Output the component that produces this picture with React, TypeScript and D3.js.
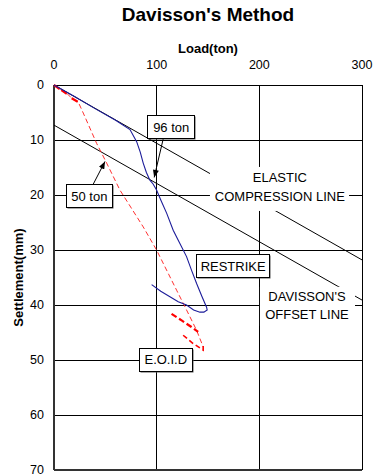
import * as d3 from 'd3';

// axis ticks
const loadTicks = [0, 100, 200, 300];
const settleTicks = [0, 10, 20, 30, 40, 50, 60, 70];

// restrike curve (blue)
const restrikeLoad = [0, 20, 40, 60, 74, 80.5, 84, 86.9, 90, 93.4, 96.5, 99.9, 104, 109.7, 116.1, 122, 129.1, 134, 138.9, 144, 148.6, 149.2, 146, 142.1, 136, 129.1, 121, 112.9, 104, 95.1];
const restrikeSettle = [0, 2.1, 4.3, 6.4, 8.1, 10.3, 12.2, 14.2, 15.9, 17.3, 18.0, 19.1, 20.9, 23.3, 26.4, 28.6, 31.2, 33.7, 36.1, 38.4, 40.4, 40.9, 41.3, 41.3, 40.9, 40.0, 39.4, 38.5, 37.5, 36.3];

// E.O.I.D curve (red dashed)
const eoidLoad = [0, 12.4, 17.2, 23.6, 28.5, 41.5, 51.3, 64.2, 86.9, 99.9, 119.4, 129.1, 138.9, 145.3];
const eoidSettle = [0, 1.5, 2.4, 3.1, 5.1, 10.6, 14.2, 19.1, 25.8, 30.0, 37.3, 40.9, 44.6, 47.6];
const eoidHeavyLoad = [0, 6, 12.4, NaN, 17.2, 23.6];
const eoidHeavySettle = [0, 0.8, 1.6, NaN, 2.4, 3.1];
const eoidReload1Load = [114.5, 124.3, 133.9, 140.4];
const eoidReload1Settle = [41.6, 42.8, 44.0, 44.9];
const eoidReload2Load = [125.8, 135.5, 145.3, 145.3];
const eoidReload2Settle = [45.5, 47.0, 48.2, 46.9];

// Davisson construction
const elasticSlope = 0.106; // mm per ton
const offsetMm = 7.3;
const lineLoad = [0, 300];

// boxed annotations (data units)
const boxLabels = ['96 ton', '50 ton', 'RESTRIKE', 'E.O.I.D'];
const boxLoad = [113.7, 33.9, 174, 108.4];
const boxSettle = [7.6, 20.1, 32.9, 49.9];
const boxWidth = [47, 46, 73, 53];

// arrows: [fromLoad, fromSettle, toLoad, toSettle]
const arrows = [
  [106.5, 9.7, 97.6, 16.8],
  [38.3, 18.0, 49.7, 13.9],
];

const W = 376;
const H = 476;
const font = '"Liberation Sans", Arial, sans-serif';

const App = () => {
  const x = d3.scaleLinear().domain([0, 300]).range([54, 362]);
  const y = d3.scaleLinear().domain([0, 70]).range([85, 470]);

  const line = d3.line<[number, number]>()
    .defined(d => !isNaN(d[0]))
    .x(d => x(d[0]))
    .y(d => y(d[1]));

  const zip = (a: number[], b: number[]) => a.map((v, i) => [v, b[i]] as [number, number]);

  const elastic = lineLoad.map(p => [p, elasticSlope * p] as [number, number]);
  const offset = lineLoad.map(p => [p, offsetMm + elasticSlope * p] as [number, number]);

  const [x0, x1] = x.range();
  const [y0, y1] = y.range();

  return (
    <svg width={W} height={H} style={{ position: 'absolute', left: 0, top: 0, background: '#fff' }} fontFamily={font}>
      <defs>
        <marker id="arrow" viewBox="0 0 10 8" refX="10" refY="4" markerWidth="8" markerHeight="6" orient="auto" markerUnits="userSpaceOnUse">
          <path d="M0,0 L10,4 L0,8 z" fill="#000" />
        </marker>
      </defs>

      <text x={(x0 + x1) / 2} y={21} textAnchor="middle" fontWeight="bold" fontSize="19">Davisson's Method</text>
      <text x={(x0 + x1) / 2} y={53} textAnchor="middle" fontWeight="bold" fontSize="13">Load(ton)</text>
      <text transform={`translate(23,${(y0 + y1) / 2}) rotate(-90)`} textAnchor="middle" fontWeight="bold" fontSize="13">Settlement(mm)</text>

      {loadTicks.map(t => (
        <text key={'xt' + t} x={x(t)} y={69} textAnchor="middle" fontSize="12.5">{t}</text>
      ))}
      {settleTicks.map(t => (
        <text key={'yt' + t} x={44} y={y(t)} textAnchor="end" dominantBaseline="central" fontSize="12.5">{t}</text>
      ))}

      <g shapeRendering="crispEdges" stroke="#000" strokeWidth={1}>
        {settleTicks.slice(1, -1).map(t => (
          <line key={'gy' + t} x1={x0} x2={x1} y1={y(t)} y2={y(t)} />
        ))}
        {loadTicks.slice(1, -1).map(t => (
          <line key={'gx' + t} x1={x(t)} x2={x(t)} y1={y0} y2={y1} />
        ))}
        <line x1={x0} x2={x1} y1={y0} y2={y0} />
        <line x1={x1} x2={x1} y1={y0} y2={y1} />
        <line x1={x0} x2={x1} y1={y1} y2={y1} stroke="#333" strokeWidth={2} />
        <line x1={x0} x2={x0} y1={y0} y2={y1} stroke="#333" strokeWidth={2} />
      </g>

      <path d={line(elastic) ?? ''} fill="none" stroke="#000" strokeWidth={1} />
      <path d={line(offset) ?? ''} fill="none" stroke="#000" strokeWidth={1} />

      <path d={line(zip(eoidLoad, eoidSettle)) ?? ''} fill="none" stroke="#ff3030" strokeWidth={1} strokeDasharray="5,3" />
      <path d={line(zip(eoidHeavyLoad, eoidHeavySettle)) ?? ''} fill="none" stroke="#ff0000" strokeWidth={2.2} strokeDasharray="7,2" />
      <path d={line(zip(eoidReload1Load, eoidReload1Settle)) ?? ''} fill="none" stroke="#ff0000" strokeWidth={2.2} strokeDasharray="6,3" />
      <path d={line(zip(eoidReload2Load, eoidReload2Settle)) ?? ''} fill="none" stroke="#ff0000" strokeWidth={1.6} strokeDasharray="5,3" />
      <path d={line(zip(restrikeLoad, restrikeSettle)) ?? ''} fill="none" stroke="#1c1c9a" strokeWidth={1.1} />

      {/* line labels on white */}
      <rect x={x(151.9)} y={y(14.9)} width={x(287.4) - x(151.9)} height={y(22.9) - y(14.9)} fill="#fff" />
      <text x={x(220)} y={y(16.9)} textAnchor="middle" dominantBaseline="central" fontSize="13">ELASTIC</text>
      <text x={x(220)} y={y(20.2)} textAnchor="middle" dominantBaseline="central" fontSize="13">COMPRESSION LINE</text>

      <rect x={x(200.6)} y={y(36.7)} width={x(293.2) - x(200.6)} height={y(43.8) - y(36.7)} fill="#fff" />
      <text x={x(246.4)} y={y(38.4)} textAnchor="middle" dominantBaseline="central" fontSize="13">DAVISSON'S</text>
      <text x={x(246.4)} y={y(41.8)} textAnchor="middle" dominantBaseline="central" fontSize="13">OFFSET LINE</text>

      {arrows.map((a, i) => (
        <line key={'ar' + i} x1={x(a[0])} y1={y(a[1])} x2={x(a[2])} y2={y(a[3])} stroke="#000" strokeWidth={1} markerEnd="url(#arrow)" />
      ))}

      {boxLabels.map((lbl, i) => {
        const cx = x(boxLoad[i]);
        const cy = y(boxSettle[i]);
        const w = boxWidth[i];
        const h = 23;
        return (
          <g key={'bx' + i}>
            <rect x={Math.round(cx - w / 2) + 1.5} y={Math.round(cy - h / 2) + 1.5} width={w} height={h} fill="#555" />
            <rect x={Math.round(cx - w / 2) + 0.5} y={Math.round(cy - h / 2) + 0.5} width={w} height={h} fill="#fff" stroke="#000" strokeWidth={1} />
            <text x={cx + 0.5} y={cy + 0.5} textAnchor="middle" dominantBaseline="central" fontSize="13">{lbl}</text>
          </g>
        );
      })}
    </svg>
  );
};

export default App;
